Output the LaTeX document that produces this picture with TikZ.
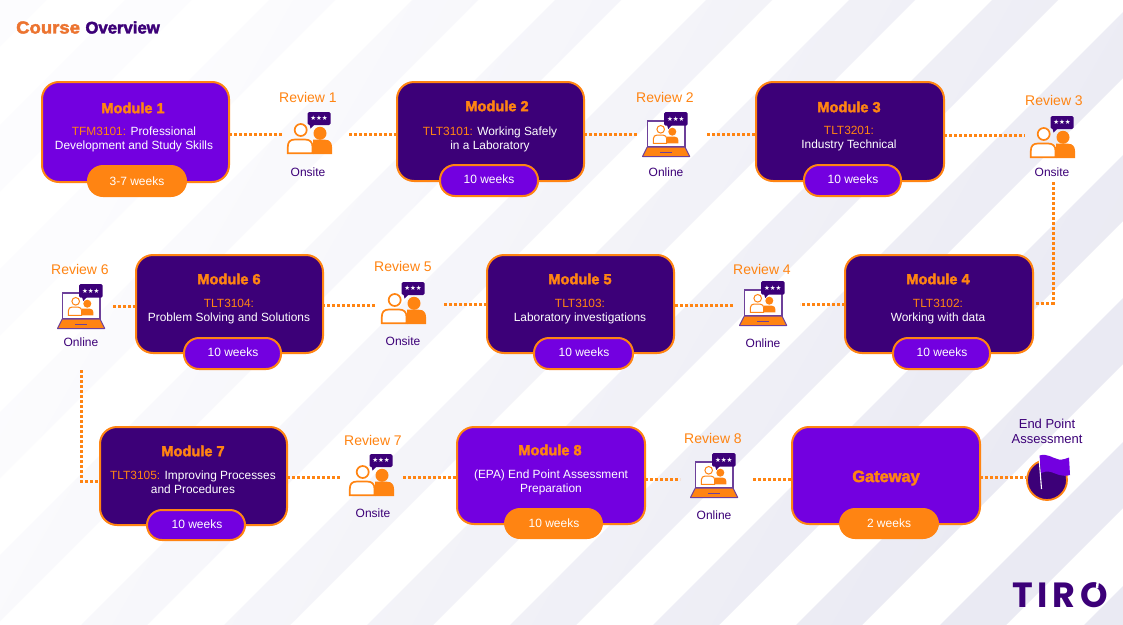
\documentclass[tikz,border=0pt]{standalone}
\usepackage{fontspec}
\setmainfont{Liberation Sans}
\newfontfamily\blk[FakeBold=2.5]{Liberation Sans Bold}
\newfontfamily\blkw[FakeBold=2.5,FakeStretch=1.07]{Liberation Sans Bold}
\newfontfamily\syms{DejaVu Sans}
\newfontfamily\logof[LetterSpace=14]{Poppins}
\definecolor{purp}{HTML}{7300E0}
\definecolor{darkp}{HTML}{3C0078}
\definecolor{orng}{HTML}{FF8412}
\definecolor{bandA}{HTML}{FCFCFE}
\definecolor{bandB}{HTML}{EAEAF3}
\tikzset{
  modbox/.style={draw=orng,line width=2pt,rounded corners=17pt,inner sep=0pt,outer sep=0pt},
  pillbox/.style={rounded corners=15pt,inner sep=0pt,outer sep=0pt,text=white,font=\fontsize{12}{14}\selectfont},
  modtitle/.style={text=orng,font=\blk\fontsize{14.6}{16}\selectfont,inner sep=0pt},
  modtext/.style={text=white,font=\fontsize{11.9}{14}\selectfont,inner sep=0pt,align=center},
  revlabel/.style={text=orng,font=\fontsize{14}{16}\selectfont,inner sep=0pt},
  modelabel/.style={text=darkp,font=\fontsize{12}{14}\selectfont,inner sep=0pt,align=center},
  dotline/.style={draw=orng,line width=3pt,dash pattern=on 3pt off 2pt},
}
\newcommand{\band}[1]{(#1,0)--(#1+66,0)--(#1+66-800,800)--(#1-800,800)--cycle}
% name x1 y1 x2 y2 fill
\newcommand{\modbox}[6]{\node[modbox,fill=#6,minimum width=#4pt-#2pt,minimum height=#5pt-#3pt] (#1) at ({(#2+#4)/2},{(#3+#5)/2}) {};}
% name x1 y1 x2 y2 fill drawcolor text tx ty
\newcommand{\pill}[9]{\node[pillbox,fill=#6,draw=#7,line width=2pt,minimum width=#4pt-#2pt,minimum height=#5pt-#3pt] (#1) at ({(#2+#4)/2},{(#3+#5)/2}) {};\node (#1t) at (#9) [text=white,font=\fontsize{12}{14}\selectfont,inner sep=0pt] {#8};}
\newcommand{\personicon}[3]{%
 \begin{scope}[shift={(#2,#3)}]
  \node[inner sep=0pt,minimum width=45pt,minimum height=42pt] (#1) at (22.5,21) {};
  \fill[orng] (33,21.3) circle (6.5);
  \fill[orng] (26,42) -- (26,27.7) -- (38,27.7) .. controls (43,27.7) and (45,31) .. (45,35) -- (45,42) -- cycle;
  \draw[orng,line width=1.7pt,fill=white] (13.7,18) circle (6);
  \draw[orng,line width=1.7pt,fill=white] (0.8,41.3) -- (0.8,35) .. controls (0.8,30) and (3,27.5) .. (8,27.5) -- (18,27.5) .. controls (23,27.5) and (25.5,30) .. (25.5,35) -- (25.5,41.3) -- cycle;
  \fill[darkp,rounded corners=1.5pt] (20.5,0) rectangle (43.5,13);
  \fill[darkp] (22.5,12) -- (23.5,16.5) -- (28,12) -- cycle;
  \node[text=white,inner sep=0pt,font=\syms\fontsize{6.5}{7}\selectfont] (#1s) at (32,6.5) {★★★};
 \end{scope}}
\newcommand{\laptopicon}[3]{%
 \begin{scope}[shift={(#2,#3)}]
  \node[inner sep=0pt,minimum width=48pt,minimum height=45pt] (#1) at (24,22.5) {};
  \draw[darkp!75,line width=1.3pt,fill=white] (5.3,9) rectangle (43,35);
  \fill[orng] (30.3,19.7) circle (4);
  \fill[orng] (24.7,31.3) -- (24.7,24.7) -- (33,24.7) .. controls (35.5,24.7) and (36.3,26.5) .. (36.3,28) -- (36.3,31.3) -- cycle;
  \draw[orng,line width=1pt,fill=white] (18.7,17.3) circle (3.8);
  \draw[orng,line width=1pt,fill=white] (11.3,31.3) -- (11.3,27) .. controls (11.3,24.5) and (13,23) .. (15,23) -- (21,23) .. controls (23.5,23) and (24.7,25) .. (24.7,27) -- (24.7,31.3) -- cycle;
  \filldraw[fill=orng,draw=darkp!75,line width=1pt,line join=round] (5.3,35) -- (43,35) -- (47.7,44.5) -- (0.5,44.5) -- cycle;
  \fill[darkp!75] (18,40) rectangle (29.7,41.3);
  \fill[darkp,rounded corners=1.5pt] (22,0) rectangle (45.7,13.7);
  \fill[darkp] (25,13) -- (26.3,17) -- (30,13) -- cycle;
  \node[text=white,inner sep=0pt,font=\syms\fontsize{6.5}{7}\selectfont] (#1s) at (33.8,6.8) {★★★};
 \end{scope}}
\begin{document}
\begin{tikzpicture}[x=1pt,y=-1pt]
\useasboundingbox (0,0) rectangle (1123,624);
\fill[white] (0,0) rectangle (1123,624);
\begin{scope}
\clip \band{-20} \band{125} \band{269} \band{412} \band{555} \band{706} \band{849} \band{992} \band{1135} \band{1278} \band{1421} \band{1565} \band{1709};
\shade[top color=bandA,bottom color=bandB,shading angle=60] (0,0) rectangle (1123,624);
\end{scope}

% title
\node[anchor=west,inner sep=0pt,font=\fontsize{17.3}{18}\selectfont] (title) at (16,27.5) {\textcolor[HTML]{EC7430}{\blkw Course}\hspace{5.5pt}\textcolor{darkp}{\blk\fontsize{16.7}{18}\selectfont Overview}};

% connector end points
\coordinate (a1) at (282,134); \coordinate (b1) at (349,134);
\coordinate (a2) at (638,134); \coordinate (b2) at (707,134);
\coordinate (a3) at (1025,135); \coordinate (b3) at (1053,182); \coordinate (b3c) at (1053,303);
\coordinate (a4) at (800,304); \coordinate (b4) at (733,305);
\coordinate (a5) at (444,304); \coordinate (b5) at (375,305);
\coordinate (a6) at (113,306); \coordinate (b6) at (81,370); \coordinate (b6c) at (81,481);
\coordinate (a7) at (340,477); \coordinate (b7) at (403,477);
\coordinate (a8) at (680,479); \coordinate (b8) at (753,479);
\coordinate (a9) at (1026,477);

% boxes
\modbox{m1}{42}{82}{229}{182}{purp}
\modbox{m2}{397}{82}{584}{181}{darkp}
\modbox{m3}{756}{82}{944}{181}{darkp}
\modbox{m4}{845}{255}{1033}{353}{darkp}
\modbox{m5}{487}{255}{674}{353}{darkp}
\modbox{m6}{136}{255}{323}{353}{darkp}
\modbox{m7}{100}{427}{287}{525}{darkp}
\modbox{m8}{457}{427}{645}{524}{purp}
\modbox{gw}{792}{427}{980}{524}{purp}

% connectors
\draw[dotline] (m1.east |- a1) -- (a1);
\draw[dotline] (b1) -- (m2.west |- b1);
\draw[dotline] (m2.east |- a2) -- (a2);
\draw[dotline] (b2) -- (m3.west |- b2);
\draw[dotline] (m3.east |- a3) -- (a3);
\draw[dotline] (b3) -- (b3c) -- (m4.east |- b3c);
\draw[dotline] (m4.west |- a4) -- (a4);
\draw[dotline] (b4) -- (m5.east |- b4);
\draw[dotline] (m5.west |- a5) -- (a5);
\draw[dotline] (b5) -- (m6.east |- b5);
\draw[dotline] (m6.west |- a6) -- (a6);
\draw[dotline] (b6) -- (b6c) -- (m7.west |- b6c);
\draw[dotline] (m7.east |- a7) -- (a7);
\draw[dotline] (b7) -- (m8.west |- b7);
\draw[dotline] (m8.east |- a8) -- (a8);
\draw[dotline] (b8) -- (gw.west |- b8);
\draw[dotline] (gw.east |- a9) -- (a9);

% module texts
\node[modtitle] (m1a) at (133,108) {Module 1};
\node[modtext] (m1b) at (134,139.5) {\textcolor{orng}{TFM3101:} Professional\\Development and Study Skills};
\node[modtitle] (m2a) at (497,106) {Module 2};
\node[modtext] (m2b) at (490,139.5) {\textcolor{orng}{TLT3101:} Working Safely\\in a Laboratory};
\node[modtitle] (m3a) at (849,107) {Module 3};
\node[modtext] (m3b) at (849,139) {\textcolor{orng}{TLT3201:}\\Industry Technical};
\node[modtitle] (m4a) at (938,279) {Module 4};
\node[modtext] (m4b) at (938,312) {\textcolor{orng}{TLT3102:}\\Working with data};
\node[modtitle] (m5a) at (580,279) {Module 5};
\node[modtext] (m5b) at (580,312) {\textcolor{orng}{TLT3103:}\\Laboratory investigations};
\node[modtitle] (m6a) at (229,279) {Module 6};
\node[modtext] (m6b) at (229,312) {\textcolor{orng}{TLT3104:}\\Problem Solving and Solutions};
\node[modtitle] (m7a) at (193,451) {Module 7};
\node[modtext] (m7b) at (193,482) {\textcolor{orng}{TLT3105:} Improving Processes\\and Procedures};
\node[modtitle] (m8a) at (550,450) {Module 8};
\node[modtext] (m8b) at (551,482) {(EPA) End Point Assessment\\Preparation};
\node[modtitle,font=\blk\fontsize{16.4}{18}\selectfont] (gwa) at (886,478) {Gateway};

% pills
\pill{p1}{88}{166}{186}{196}{orng}{orng}{3-7 weeks}{137,181}
\pill{p2}{440}{165}{538}{196}{purp}{orng}{10 weeks}{489,179}
\pill{p3}{804}{165}{901}{196}{purp}{orng}{10 weeks}{853,179}
\pill{p4}{893}{338}{990}{369}{purp}{orng}{10 weeks}{942,352}
\pill{p5}{534}{338}{633}{369}{purp}{orng}{10 weeks}{584,352}
\pill{p6}{184}{338}{281}{369}{purp}{orng}{10 weeks}{233,352}
\pill{p7}{147}{510}{245}{540}{purp}{orng}{10 weeks}{197,524}
\pill{p8}{505}{509}{602}{538}{orng}{orng}{10 weeks}{554,523}
\pill{p9}{840}{509}{938}{538}{orng}{orng}{2 weeks}{889,523}

% reviews
\node[revlabel] (l1) at (308,97) {Review 1};
\personicon{r1}{287}{112}
\node[modelabel] (o1) at (308,172) {Onsite};
\node[revlabel] (l2) at (665,97) {Review 2};
\laptopicon{r2}{642}{112}
\node[modelabel] (o2) at (666,172) {Online};
\node[revlabel] (l3) at (1054,100) {Review 3};
\personicon{r3}{1030}{116}
\node[modelabel] (o3) at (1052,172) {Onsite};
\node[revlabel] (l4) at (762,269) {Review 4};
\laptopicon{r4}{739}{281}
\node[modelabel] (o4) at (763,343) {Online};
\node[revlabel] (l5) at (403,266) {Review 5};
\personicon{r5}{381}{282}
\node[modelabel] (o5) at (403,341) {Onsite};
\node[revlabel] (l6) at (80,269) {Review 6};
\laptopicon{r6}{57}{284}
\node[modelabel] (o6) at (81,342) {Online};
\node[revlabel] (l7) at (373,440) {Review 7};
\personicon{r7}{349}{454}
\node[modelabel] (o7) at (373,513) {Onsite};
\node[revlabel] (l8) at (713,438) {Review 8};
\laptopicon{r8}{690}{453}
\node[modelabel] (o8) at (714,515) {Online};

% end point
\node[modelabel,font=\fontsize{13}{15}\selectfont] (epa) at (1047,431.5) {End Point\\Assessment};
\node[circle,draw=orng,line width=1.8pt,fill=darkp,minimum size=40pt,inner sep=0pt] (ep) at (1047,480) {};
\draw[white,line width=1.1pt] (1039,457) -- (1041.5,489);
\fill[purp] (1039.5,455.5) .. controls (1047,453) and (1052,458) .. (1059,459.5) .. controls (1063,460) and (1066,458.5) .. (1069,457.5) -- (1070,475) .. controls (1062,477.5) and (1056,473.5) .. (1051,472) .. controls (1047,471) and (1044,471.5) .. (1041,473) -- cycle;

% logo
\node[anchor=west,inner sep=0pt,text=darkp,font=\logof\bfseries\fontsize{35}{38}\selectfont] (logo) at (1012,595) {TIRO};
\draw[white,line width=2.4pt] (1098,579) -- (1097,588);
\end{tikzpicture}
\end{document}
